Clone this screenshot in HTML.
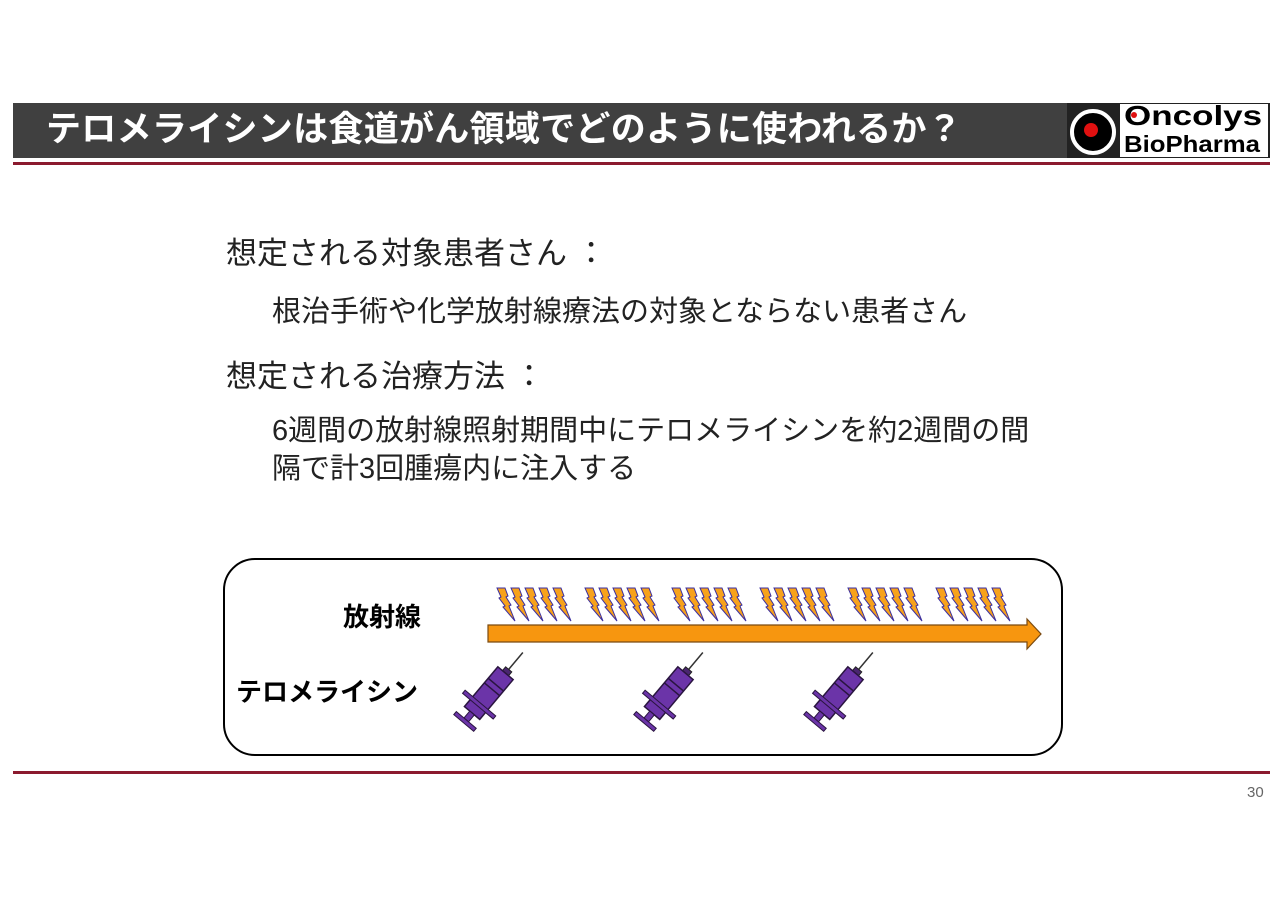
<!DOCTYPE html>
<html><head><meta charset="utf-8"><style>
body{margin:0;width:1280px;height:905px;background:#fff;position:relative;overflow:hidden;font-family:"Liberation Sans","Noto Sans CJK JP",sans-serif}
.a{position:absolute;white-space:nowrap}
</style></head><body>
<div class="a" style="left:13px;top:103px;width:1054px;height:55px;background:#404040"></div>
<div class="a" style="left:46px;top:107px;font-size:35px;line-height:46px;font-weight:bold;color:#fff;letter-spacing:0.3px">テロメライシンは食道がん領域でどのように使われるか？</div>
<div class="a" style="left:1067px;top:103px;width:203px;height:55px;background:#222"></div>
<div class="a" style="left:1120px;top:104px;width:148px;height:53px;background:#fff"></div>
<div class="a" style="left:1070px;top:109px;width:38px;height:38px;border:4px solid #fff;border-radius:50%;background:#000"></div>
<div class="a" style="left:1084px;top:123px;width:14px;height:14px;border-radius:50%;background:#e01010"></div>
<div class="a" style="left:1124px;top:101px;font-size:28px;font-weight:bold;line-height:30px;color:#000;transform:scaleX(1.25);transform-origin:left">Oncolys</div>
<div class="a" style="left:1124px;top:131px;font-size:23px;font-weight:bold;line-height:26px;color:#000;transform:scaleX(1.12);transform-origin:left">BioPharma</div>
<div class="a" style="left:1131px;top:112px;width:6px;height:6px;border-radius:50%;background:#e01010"></div>
<div class="a" style="left:13px;top:162px;width:1257px;height:3px;background:#8b1a2e"></div>

<div class="a" style="left:226px;top:234px;font-size:31px;line-height:40px;color:#222">想定される対象患者さん ：</div>
<div class="a" style="left:272px;top:292px;font-size:29px;line-height:40px;color:#222">根治手術や化学放射線療法の対象とならない患者さん</div>
<div class="a" style="left:226px;top:357px;font-size:31px;line-height:40px;color:#222">想定される治療方法 ：</div>
<div class="a" style="left:272px;top:412px;font-size:29px;line-height:38px;color:#222">6週間の放射線照射期間中にテロメライシンを約2週間の間<br>隔で計3回腫瘍内に注入する</div>

<div class="a" style="left:223px;top:558px;width:836px;height:194px;border:2px solid #000;border-radius:32px"></div>
<div class="a" style="left:343px;top:601px;font-size:26px;font-weight:bold;line-height:32px">放射線</div>
<div class="a" style="left:236px;top:676px;font-size:26px;font-weight:bold;line-height:32px">テロメライシン</div>

<svg class="a" style="left:0;top:0" width="1280" height="905">
<defs>
<polygon id="b" points="0,0 8,0 11,8 9,9 14,17 12,18 18,33 6,19 8,18 2,10 4,9" fill="#f7a21b" stroke="#3b2fa0" stroke-width="1"/>
<g id="s">
<line x1="0" y1="-38" x2="0" y2="-62" stroke="#333" stroke-width="1.5"/>
<rect x="-4" y="-40" width="8" height="5" fill="#4a2570" stroke="#222"/>
<rect x="-10" y="-35" width="20" height="52" fill="#6b34a8" stroke="#2a1540" stroke-width="1.5"/>
<line x1="-10" y1="-20" x2="10" y2="-20" stroke="#2a1540" stroke-width="1.5"/>
<line x1="-10" y1="-14" x2="10" y2="-14" stroke="#2a1540" stroke-width="1.5"/>
<rect x="-20" y="4" width="40" height="4" fill="#6b34a8" stroke="#2a1540"/>
<rect x="-3" y="17" width="6" height="9" fill="#6b34a8" stroke="#2a1540"/>
<rect x="-13" y="26" width="26" height="4" fill="#6b34a8" stroke="#2a1540"/>
</g>
</defs>
<g>
<use href="#b" x="497" y="588"/><use href="#b" x="511" y="588"/><use href="#b" x="525" y="588"/><use href="#b" x="539" y="588"/><use href="#b" x="553" y="588"/>
<use href="#b" x="585" y="588"/><use href="#b" x="599" y="588"/><use href="#b" x="613" y="588"/><use href="#b" x="627" y="588"/><use href="#b" x="641" y="588"/>
<use href="#b" x="672" y="588"/><use href="#b" x="686" y="588"/><use href="#b" x="700" y="588"/><use href="#b" x="714" y="588"/><use href="#b" x="728" y="588"/>
<use href="#b" x="760" y="588"/><use href="#b" x="774" y="588"/><use href="#b" x="788" y="588"/><use href="#b" x="802" y="588"/><use href="#b" x="816" y="588"/>
<use href="#b" x="848" y="588"/><use href="#b" x="862" y="588"/><use href="#b" x="876" y="588"/><use href="#b" x="890" y="588"/><use href="#b" x="904" y="588"/>
<use href="#b" x="936" y="588"/><use href="#b" x="950" y="588"/><use href="#b" x="964" y="588"/><use href="#b" x="978" y="588"/><use href="#b" x="992" y="588"/>
</g>
<polygon points="488,625 1027,625 1027,619 1041,634 1027,649 1027,642 488,642" fill="#f7960f" stroke="#7a4a10" stroke-width="1.2"/>
<use href="#s" transform="translate(483,700) rotate(40)"/>
<use href="#s" transform="translate(663,700) rotate(40)"/>
<use href="#s" transform="translate(833,700) rotate(40)"/>
</svg>

<div class="a" style="left:13px;top:771px;width:1257px;height:3px;background:#8b1a2e"></div>
<div class="a" style="left:1247px;top:784px;font-size:15px;color:#666">30</div>
</body></html>
